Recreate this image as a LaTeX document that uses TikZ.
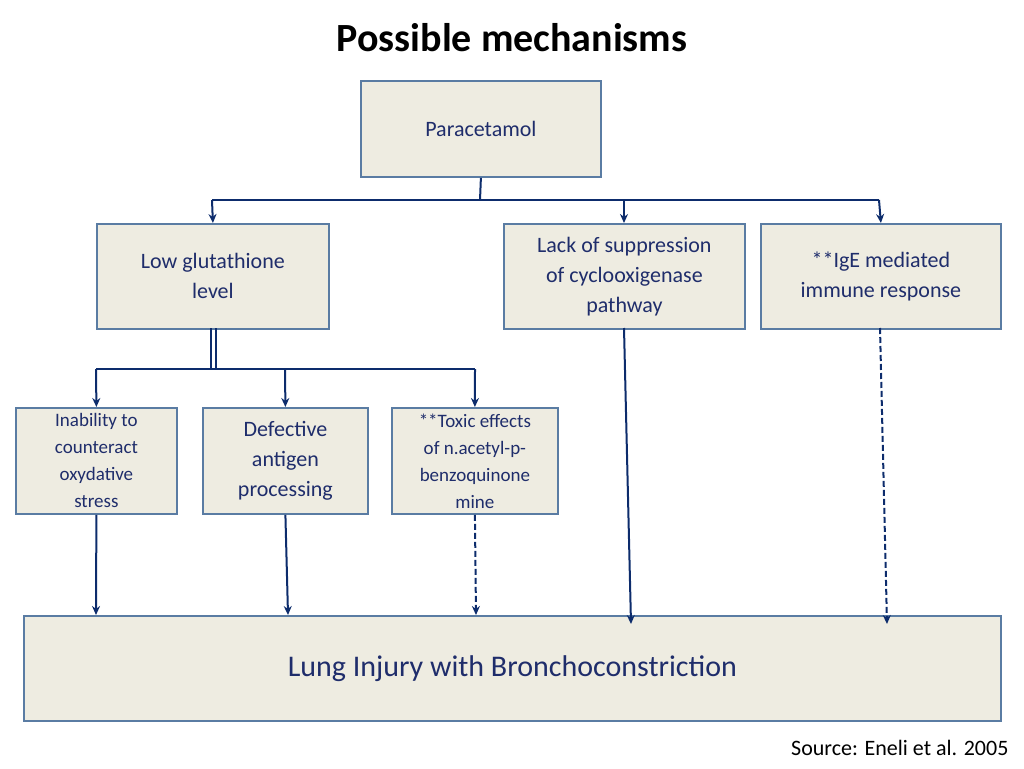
\documentclass[tikz,border=0pt]{standalone}
\usepackage{fontspec}
\setmainfont{Carlito}
\usetikzlibrary{arrows.meta}
\definecolor{txt}{HTML}{1F2D6B}
\definecolor{boxfill}{HTML}{EEECE1}
\definecolor{boxline}{HTML}{5A7CA3}
\definecolor{arr}{HTML}{0D2C6C}
\begin{document}
\begin{tikzpicture}[x=1pt,y=-1pt,
  box/.style={draw=boxline,line width=1.8pt,fill=boxfill,text=txt,align=center,inner sep=0pt,anchor=north west},
  con/.style={draw=arr,line width=2pt},
  ar/.style={con,-{Stealth[length=9pt,width=8pt]}},
  dar/.style={ar,dash pattern=on 6pt off 3pt}]
\useasboundingbox (0,0) rectangle (1024,768);
\node[font=\bfseries\fontsize{40}{44}\selectfont,text=black] (title) at (512,38) {Possible mechanisms};
\node[box,minimum width=240pt,minimum height=96pt,font=\fontsize{22}{30}\selectfont] (p) at (360,80) {Paracetamol};
\node[box,minimum width=232pt,minimum height=105pt,font=\fontsize{22}{30}\selectfont] (g) at (96,223) {Low glutathione\\level};
\node[box,minimum width=241pt,minimum height=105pt,font=\fontsize{22}{30}\selectfont] (c) at (503,223) {Lack of suppression\\of cyclooxigenase\\pathway};
\node[box,minimum width=240pt,minimum height=105pt,font=\fontsize{22}{30}\selectfont] (i) at (760,223) {**IgE mediated\\immune response};
\node[box,minimum width=161pt,minimum height=106pt,font=\fontsize{19}{27}\selectfont] (a) at (15,407) {Inability to\\counteract\\oxydative\\stress};
\node[box,minimum width=165pt,minimum height=106pt,font=\fontsize{22}{30}\selectfont] (d) at (202,407) {Defective\\antigen\\processing};
\node[box,minimum width=166pt,minimum height=106pt,font=\fontsize{19}{27}\selectfont] (t) at (391,407) {**Toxic effects\\of n.acetyl-p-\\benzoquinone\\mine};
\node[box,minimum width=977pt,minimum height=105pt,font=\fontsize{30}{36}\selectfont] (l) at (23,615) {Lung Injury with Bronchoconstriction};
\node[font=\fontsize{22}{26}\selectfont,text=black,anchor=east] (s) at (1012,748) {Source: Eneli et al. 2005};
% top tree
\coordinate (p1) at (480,200);
\draw[con] (p.south) -- (p1);
\draw[con] (212,200) -- (879,200);
\draw[ar] (212,200) -- (g.north);
\draw[ar] (624,200) -- (624,223);
\draw[ar] (879,200) -- (i.north);
% glutathione tree
\draw[con] (211,328) -- (211,369);
\draw[con] (216,328) -- (216,369);
\draw[con] (96,369) -- (475,369);
\draw[ar] (96,369) -- (a.north);
\draw[ar] (285,369) -- (d.north);
\draw[ar] (475,369) -- (t.north);
% to lung
\draw[ar] (a.south) -- (96,615);
\draw[ar] (d.south) -- (288,615);
\draw[dar] (t.south) -- (476,615);
\draw[ar] (624,328) -- (631,624);
\draw[dar] (880,328) -- (887,624);
\end{tikzpicture}
\end{document}
